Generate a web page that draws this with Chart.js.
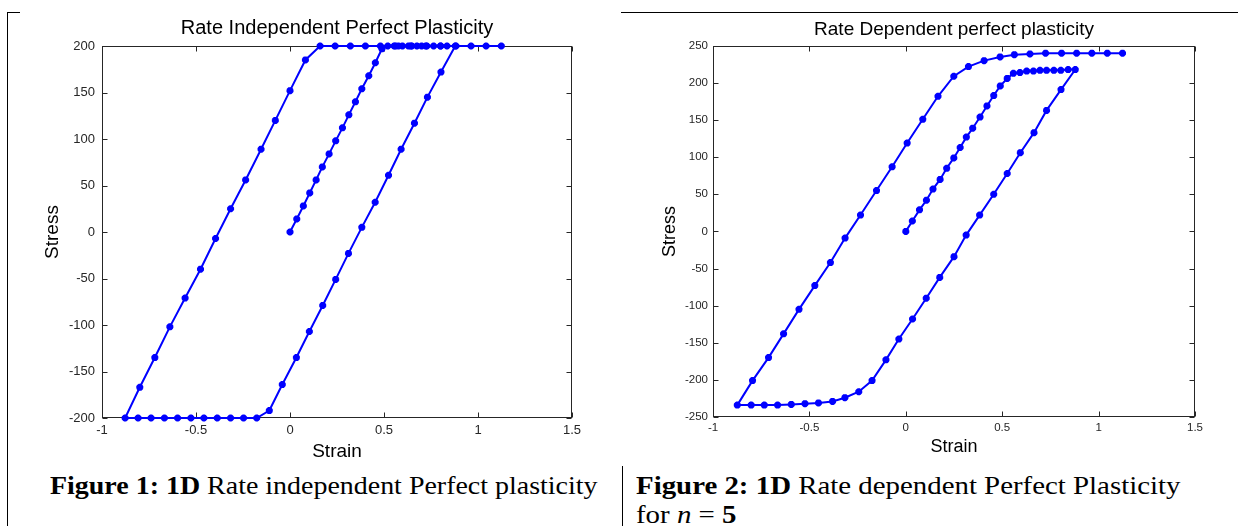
<!DOCTYPE html>
<html>
<head>
<meta charset="utf-8">
<title>Plastisite</title>
<script src="https://cdn.jsdelivr.net/npm/chart.js@4.4.0/dist/chart.umd.min.js"></script>
<style>
  body { margin: 0; background: #fff; width: 1238px; height: 526px; overflow: hidden; position: relative; }
  canvas { position: absolute; top: 0; }
  #grafik1 { left: 0; }
  #grafik2 { left: 620px; }
  .cizgi { position: absolute; background: #000; }
  .yazi { position: absolute; font-family: 'Liberation Serif', 'Times New Roman', serif; font-size: 26px; line-height: 29px; color: #000; white-space: nowrap; transform-origin: left top; }
  .yazi i { font-style: italic; }
</style>
</head>
<body>
<canvas id="grafik1" width="620" height="466"></canvas>
<canvas id="grafik2" width="618" height="466"></canvas>

<!-- tablo kenarları -->
<div class="cizgi" style="left:7px; top:12px; width:1px; height:514px"></div>
<div class="cizgi" style="left:7px; top:12px; width:13px; height:1px"></div>
<div class="cizgi" style="left:621px; top:12px; width:617px; height:1px"></div>
<div class="cizgi" style="left:622px; top:466px; width:1px; height:60px"></div>

<div class="yazi" style="left:50px; top:471px; transform:scaleX(1.075)"><b>Figure 1: 1D</b> Rate independent Perfect plasticity</div>
<div class="yazi" style="left:636px; top:471px; transform:scaleX(1.11)"><b>Figure 2: 1D</b> Rate dependent Perfect Plasticity<br>for <i>n</i> = <b>5</b></div>

<script>
// Eksen tikleri
const xTikleri = [-1, -0.5, 0, 0.5, 1, 1.5];
const yTikleri1 = [-200, -150, -100, -50, 0, 50, 100, 150, 200];
const yTikleri2 = [-250, -200, -150, -100, -50, 0, 50, 100, 150, 200, 250];

// Grafik 1: hızdan bağımsız (yükleme, boşaltma, ters akma, tekrar yükleme, akma)
const gerinim1 = [
    0, 0.036, 0.071, 0.105, 0.139, 0.172, 0.208, 0.243, 0.279, 0.313, 0.348, 0.382, 0.419, 0.454, 0.489,
    0.52, 0.554, 0.577, 0.598, 0.63, 0.648, 0.675, 0.70, 0.728, 0.764, 0.80, 0.835, 0.879,
    0.803, 0.731, 0.662, 0.591, 0.524, 0.453, 0.382, 0.311, 0.243, 0.174, 0.103, 0.034, -0.041, -0.110, -0.177,
    -0.247, -0.316, -0.387, -0.458, -0.527, -0.598, -0.668, -0.739, -0.808, -0.877,
    -0.799, -0.719, -0.639, -0.558, -0.476, -0.396, -0.316, -0.236, -0.154, -0.078, 0, 0.082, 0.160,
    0.240, 0.321, 0.401, 0.481, 0.562, 0.642, 0.722, 0.802, 0.883, 0.963, 1.043, 1.124
];
const gerilme1 = [
    0, 14, 28, 42, 56, 70, 84, 98, 112, 126, 140, 154, 168, 182, 197,
    200, 200, 200, 200, 200, 200, 200, 200, 200, 200, 200, 200, 200,
    172, 145, 117, 89, 61, 32, 5, -23, -51, -79, -107, -135, -164, -192, -200,
    -200, -200, -200, -200, -200, -200, -200, -200, -200, -200,
    -167, -135, -102, -71, -40, -7, 25, 56, 89, 120, 152, 185, 200,
    200, 200, 200, 200, 200, 200, 200, 200, 200, 200, 200, 200
];

// Grafik 2: hıza bağlı, n = 5
const gerinim2 = [
    0, 0.034, 0.071, 0.107, 0.141, 0.178, 0.212, 0.249, 0.282, 0.314, 0.347, 0.385, 0.421, 0.456, 0.490,
    0.526, 0.558, 0.592, 0.627, 0.662, 0.696, 0.730, 0.768, 0.804, 0.842, 0.879,
    0.805, 0.730, 0.665, 0.594, 0.526, 0.456, 0.383, 0.313, 0.250, 0.176, 0.106, 0.035, -0.036, -0.103, -0.175,
    -0.244, -0.316, -0.380, -0.453, -0.523, -0.594, -0.665, -0.734, -0.802, -0.874,
    -0.795, -0.712, -0.634, -0.554, -0.472, -0.391, -0.315, -0.235, -0.152, -0.071, 0.007, 0.088, 0.167,
    0.249, 0.325, 0.406, 0.489, 0.563, 0.644, 0.725, 0.808, 0.886, 0.965, 1.045, 1.124
];
const gerilme2 = [
    0, 14, 29, 42, 57, 70, 85, 99, 113, 127, 139, 154, 169, 183, 196,
    206, 213, 214, 216, 216, 217, 217, 217, 217, 218, 218,
    191, 163, 133, 106, 78, 50, 22, -5, -34, -62, -90, -118, -145, -173, -201,
    -216, -224, -229, -231, -232, -233, -234, -234, -234, -234,
    -201, -170, -138, -105, -73, -42, -9, 22, 55, 87, 119, 151, 182,
    209, 222, 230, 235, 238, 239, 240, 240, 240, 240, 240, 240
];

// MATLAB tarzı çerçeve ve içe dönük tik çizgileri
const cerceve = {
    id: 'cerceve',
    beforeDatasetsDraw(chart) {
        const { ctx, chartArea: a, scales: { x, y } } = chart;
        const L = 5;
        const sol = Math.round(a.left) + 0.5, sag = Math.round(a.right) - 0.5;
        const ust = Math.round(a.top) + 0.5, alt = Math.round(a.bottom) - 0.5;
        ctx.save();
        ctx.strokeStyle = '#262626';
        ctx.lineWidth = 1;
        ctx.strokeRect(sol, ust, sag - sol, alt - ust);
        ctx.beginPath();
        x.ticks.forEach(t => {
            const px = Math.round(x.getPixelForValue(t.value)) + 0.5;
            ctx.moveTo(px, alt); ctx.lineTo(px, alt - L);
            ctx.moveTo(px, ust); ctx.lineTo(px, ust + L);
        });
        y.ticks.forEach(t => {
            const py = Math.round(y.getPixelForValue(t.value)) + 0.5;
            ctx.moveTo(sol, py); ctx.lineTo(sol + L, py);
            ctx.moveTo(sag, py); ctx.lineTo(sag - L, py);
        });
        ctx.stroke();
        ctx.restore();
    }
};

function grafikCiz(id, ayar) {
    const ctx = document.getElementById(id).getContext('2d');
    const noktalar = ayar.gerinim.map((g, i) => ({ x: g, y: ayar.gerilme[i] }));
    const yaziTipi = "'Liberation Sans', Arial, sans-serif";

    return new Chart(ctx, {
        type: 'scatter',
        data: {
            datasets: [{
                data: noktalar,
                showLine: true,
                borderColor: '#0000ff',
                backgroundColor: '#0000ff',
                borderWidth: 2,
                pointStyle: 'star',
                pointRadius: 3.5,
                pointBorderWidth: 2.5,
                pointHoverRadius: 3.5,
                clip: false,
                tension: 0
            }]
        },
        options: {
            responsive: false,
            animation: false,
            events: [],
            layout: { padding: { left: 0, top: 0, right: ayar.sagBosluk, bottom: 0 } },
            plugins: {
                legend: { display: false },
                tooltip: { enabled: false },
                title: {
                    display: true,
                    fullSize: false,
                    text: ayar.baslik,
                    color: '#000',
                    font: { family: yaziTipi, size: ayar.baslikBoyu, weight: 'normal', lineHeight: 1.2 },
                    padding: ayar.baslikBosluk
                }
            },
            scales: {
                x: {
                    type: 'linear',
                    min: -1, max: 1.5,
                    afterBuildTicks: s => { s.ticks = xTikleri.map(v => ({ value: v })); },
                    afterFit: s => { s.height = ayar.xYukseklik; s.paddingLeft = 0; s.paddingRight = 0; },
                    grid: { display: false, drawTicks: false },
                    border: { display: false },
                    ticks: {
                        color: '#262626', padding: ayar.xTikBosluk,
                        font: { family: yaziTipi, size: ayar.tikBoyu },
                        callback: v => String(v)
                    },
                    title: {
                        display: true, text: 'Strain', color: '#000',
                        font: { family: yaziTipi, size: ayar.eksenBoyu, lineHeight: 1.2 },
                        padding: { top: 0, bottom: ayar.xBaslikBosluk }
                    }
                },
                y: {
                    type: 'linear',
                    min: ayar.yTikleri[0], max: ayar.yTikleri[ayar.yTikleri.length - 1],
                    afterBuildTicks: s => { s.ticks = ayar.yTikleri.map(v => ({ value: v })); },
                    afterFit: s => { s.width = ayar.yGenislik; s.paddingTop = 0; s.paddingBottom = 0; },
                    grid: { display: false, drawTicks: false },
                    border: { display: false },
                    ticks: {
                        color: '#262626', padding: ayar.yTikBosluk,
                        font: { family: yaziTipi, size: ayar.tikBoyu },
                        callback: v => String(v)
                    },
                    title: {
                        display: true, text: 'Stress', color: '#000',
                        font: { family: yaziTipi, size: ayar.eksenBoyu, lineHeight: 1.2 },
                        padding: { top: ayar.yBaslikBosluk, bottom: 0 }
                    }
                }
            }
        },
        plugins: [cerceve]
    });
}

grafikCiz('grafik1', {
    gerinim: gerinim1, gerilme: gerilme1, yTikleri: yTikleri1,
    baslik: 'Rate Independent Perfect Plasticity', baslikBoyu: 20,
    baslikBosluk: { top: 16, bottom: 6 },
    sagBosluk: 48, yGenislik: 102, xYukseklik: 48,
    tikBoyu: 13, xTikBosluk: 5, yTikBosluk: 7,
    eksenBoyu: 19, xBaslikBosluk: 3, yBaslikBosluk: 41
});

grafikCiz('grafik2', {
    gerinim: gerinim2, gerilme: gerilme2, yTikleri: yTikleri2,
    baslik: 'Rate Dependent perfect plasticity', baslikBoyu: 19,
    baslikBosluk: { top: 18, bottom: 5 },
    sagBosluk: 43, yGenislik: 93, xYukseklik: 49,
    tikBoyu: 11.5, xTikBosluk: 4, yTikBosluk: 5,
    eksenBoyu: 18, xBaslikBosluk: 8, yBaslikBosluk: 39
});
</script>
</body>
</html>
